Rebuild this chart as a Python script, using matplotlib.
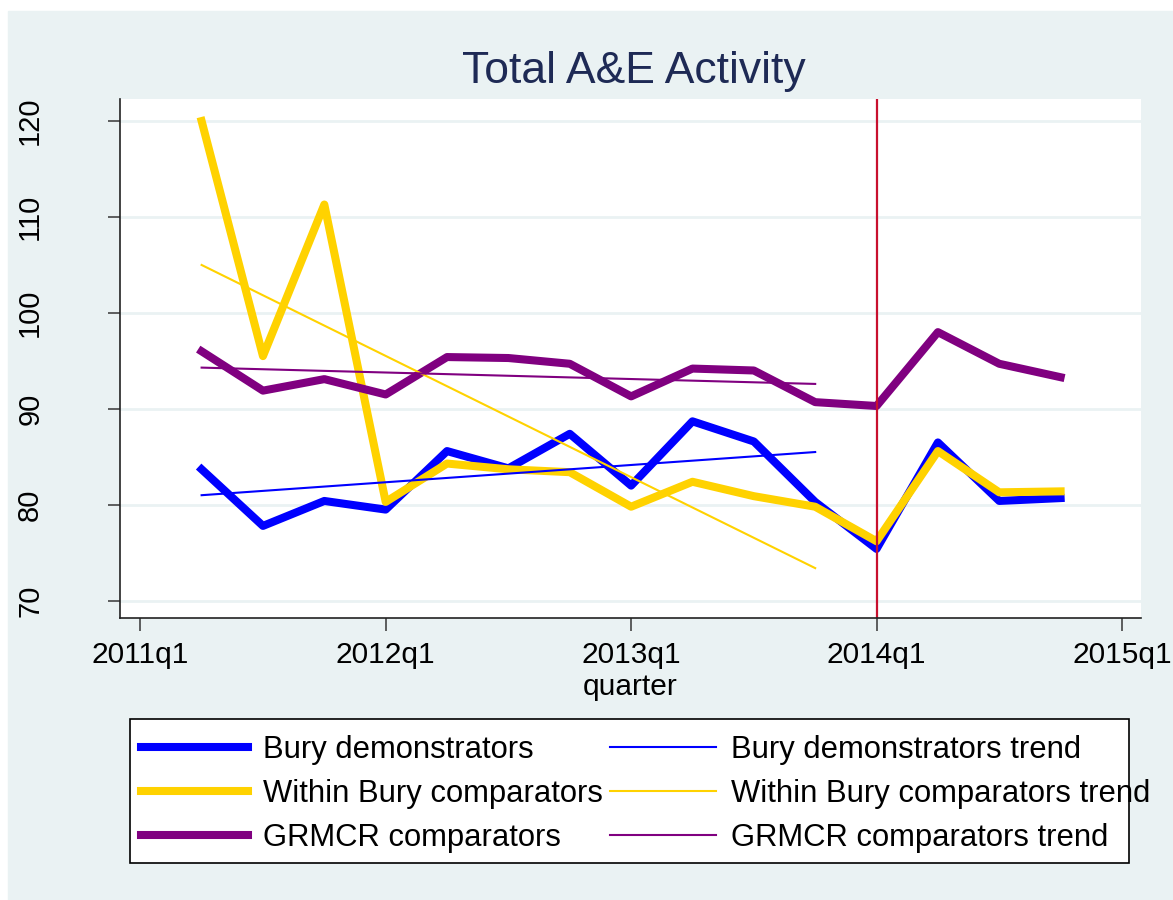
import matplotlib
matplotlib.use("Agg")
import matplotlib.pyplot as plt
from matplotlib.patches import Rectangle

plt.rcParams["font.family"] = ["Liberation Sans", "DejaVu Sans"]

# quarters counted from 2011q1 = 0
quarters = [1, 2, 3, 4, 5, 6, 7, 8, 9, 10, 11, 12, 13, 14, 15]
bury = [83.7, 77.8, 80.4, 79.5, 85.6, 83.8, 87.4, 82.0, 88.7, 86.6, 80.3, 75.4, 86.5, 80.4, 80.7]
within = [120.0, 95.5, 111.3, 80.3, 84.3, 83.7, 83.4, 79.8, 82.4, 80.9, 79.8, 76.2, 85.6, 81.3, 81.4]
grmcr = [96.0, 91.9, 93.1, 91.5, 95.4, 95.3, 94.7, 91.3, 94.2, 94.0, 90.7, 90.3, 98.0, 94.7, 93.3]

trend_x = [1, 11]
bury_trend = [81.0, 85.5]
within_trend = [105.0, 73.4]
grmcr_trend = [94.3, 92.6]

tick_pos = [0, 4, 8, 12, 16]
tick_labels = ["2011q1", "2012q1", "2013q1", "2014q1", "2015q1"]
intervention = 12

blue = "#0000FF"
gold = "#FFD200"
purple = "#800080"
bg = "#EAF2F3"

W, H = 1173, 900
fig = plt.figure(figsize=(W / 100, H / 100), dpi=100)
fig.patches.append(Rectangle((8 / W, 0), 1 - 8 / W, 1 - 11 / H,
                             transform=fig.transFigure, color=bg, zorder=-10))

ax = fig.add_axes([120 / W, 1 - 618 / H, 1021 / W, 519 / H])
ax.set_facecolor("white")

ax.yaxis.grid(True, color=bg, linewidth=2)
ax.set_axisbelow(True)

lw = 5.8
l1, = ax.plot(quarters, bury, color=blue, lw=lw, solid_joinstyle="round",
              label="Bury demonstrators")
l2, = ax.plot(quarters, within, color=gold, lw=lw, solid_joinstyle="round",
              label="Within Bury comparators")
l3, = ax.plot(quarters, grmcr, color=purple, lw=lw, solid_joinstyle="round",
              label="GRMCR comparators")
t1, = ax.plot(trend_x, bury_trend, color=blue, lw=1.5, label="Bury demonstrators trend")
t2, = ax.plot(trend_x, within_trend, color=gold, lw=1.5, label="Within Bury comparators trend")
t3, = ax.plot(trend_x, grmcr_trend, color=purple, lw=1.5, label="GRMCR comparators trend")

ax.axvline(intervention, color="#C8102E", lw=1.6)

ax.set_xlim(-0.33, 16.31)
ax.set_ylim(68.2, 122.3)
ax.set_xticks(tick_pos)
ax.set_xticklabels(tick_labels)
ax.set_yticks([70, 80, 90, 100, 110, 120])

for s in ["top", "right"]:
    ax.spines[s].set_visible(False)
for s in ["left", "bottom"]:
    ax.spines[s].set_color("#222222")
    ax.spines[s].set_linewidth(1.2)

ax.tick_params(axis="x", length=9.4, width=1.2, color="#444444", pad=7, labelsize=21.5)
ax.tick_params(axis="y", length=8.6, width=1.2, color="#444444", pad=46, labelsize=21,
               labelrotation=90)
for lab in ax.get_yticklabels():
    lab.set_va("center")

fig.text(634 / W, 1 - 71 / H, "Total A&E Activity", ha="center", va="center",
         fontsize=32, color="#1E2A55")
fig.text(630 / W, 1 - 687 / H, "quarter", ha="center", va="center", fontsize=21.5)

# legend box drawn separately so the long label can run past it as in Stata
fig.patches.append(Rectangle((130 / W, 1 - 863 / H), 999 / W, 144 / H,
                             transform=fig.transFigure, facecolor="white",
                             edgecolor="black", linewidth=1.2, zorder=1))
leg = fig.legend(handles=[l1, l2, l3, t1, t2, t3], ncol=2, loc="upper left",
                 bbox_to_anchor=(130 / W, 1 - 724 / H), fontsize=22.3,
                 frameon=False, handlelength=3.45, handletextpad=0.48,
                 labelspacing=0.46, columnspacing=0.23, borderpad=0.35,
                 borderaxespad=0)
leg.set_zorder(2)

fig.savefig("out.png", dpi=100)
